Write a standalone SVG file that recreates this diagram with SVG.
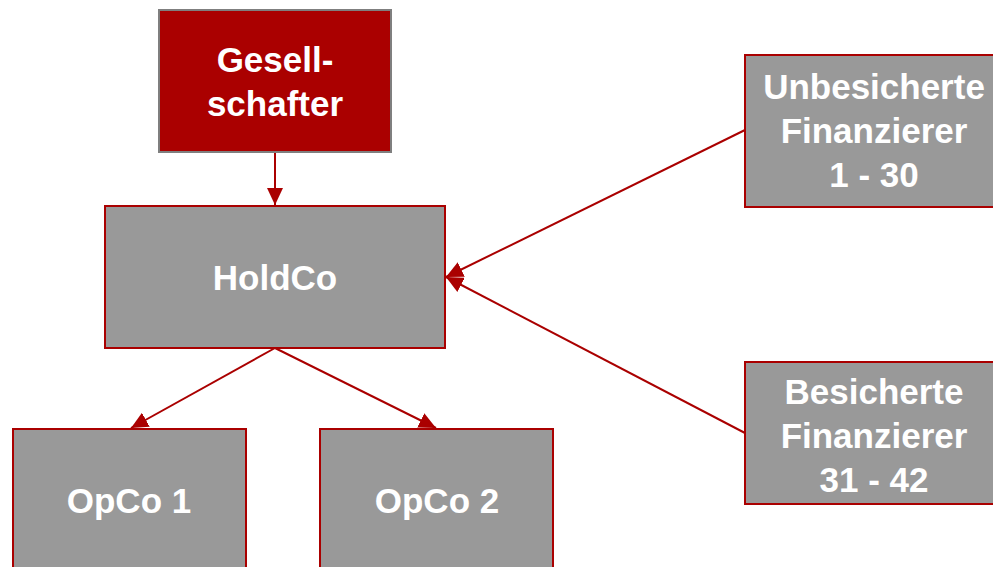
<svg xmlns="http://www.w3.org/2000/svg" width="993" height="567" viewBox="0 0 993 567">
<style>
.box{fill:#999999;stroke:#AA0000;stroke-width:2}
.red{fill:#AA0000;stroke:#7F7F7F;stroke-width:2}
.t{font-family:"Liberation Sans",Arial,sans-serif;font-weight:bold;font-size:35px;fill:#FFFFFF;text-anchor:middle}
.c{stroke:#AA0000;stroke-width:2;fill:none;marker-end:url(#ah)}
</style>
<defs>
<marker id="ah" markerUnits="userSpaceOnUse" markerWidth="17" markerHeight="16" refX="17" refY="8" orient="auto">
<path d="M0,0 L17,8 L0,16 z" fill="#AA0000"/>
</marker>
</defs>
<rect width="993" height="567" fill="#FFFFFF"/>
<g id="connectors">
<line class="c" x1="275" y1="152" x2="275" y2="205"/>
<line class="c" x1="745" y1="130" x2="446" y2="277"/>
<line class="c" x1="745" y1="433" x2="446" y2="277"/>
<line class="c" x1="275" y1="348" x2="131" y2="428"/>
<line class="c" x1="275" y1="348" x2="436" y2="428"/>
</g>
<g id="gesellschafter">
<rect class="red" x="159" y="10" width="232" height="142"/>
<text class="t" x="275" y="72">Gesell-</text>
<text class="t" x="275" y="116">schafter</text>
</g>
<g id="holdco">
<rect class="box" x="105" y="206" width="340" height="142"/>
<text class="t" x="275" y="290">HoldCo</text>
</g>
<g id="unbesicherte">
<rect class="box" x="745" y="55" width="258" height="152"/>
<text class="t" x="874" y="99">Unbesicherte</text>
<text class="t" x="874" y="143">Finanzierer</text>
<text class="t" x="874" y="187">1 - 30</text>
</g>
<g id="besicherte">
<rect class="box" x="745" y="362" width="258" height="142"/>
<text class="t" x="874" y="404">Besicherte</text>
<text class="t" x="874" y="448">Finanzierer</text>
<text class="t" x="874" y="492">31 - 42</text>
</g>
<g id="opco1">
<rect class="box" x="13" y="429" width="233" height="150"/>
<text class="t" x="129" y="513">OpCo 1</text>
</g>
<g id="opco2">
<rect class="box" x="320" y="429" width="233" height="150"/>
<text class="t" x="437" y="513">OpCo 2</text>
</g>
</svg>
